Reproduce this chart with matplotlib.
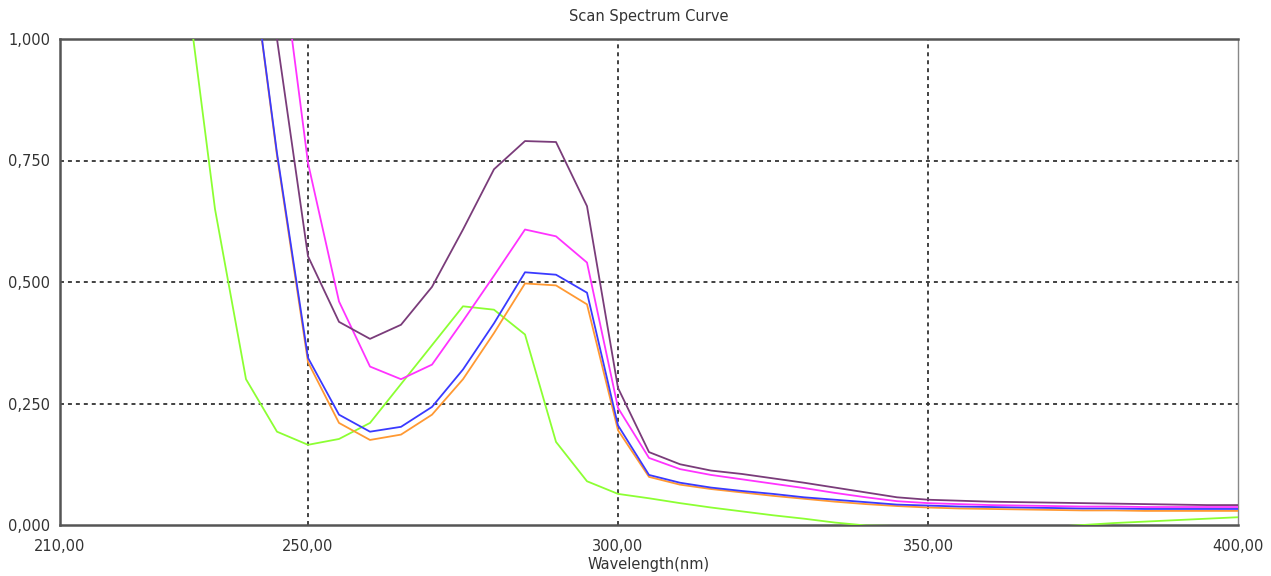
import numpy as np
import matplotlib
matplotlib.use("Agg")
import matplotlib.pyplot as plt
from matplotlib.ticker import FuncFormatter

wavelengths = list(range(230, 401, 5))

green = [1.15, 0.65, 0.30, 0.192, 0.165, 0.177, 0.21, 0.29, 0.37, 0.45, 0.443, 0.392,
         0.171, 0.09, 0.064, 0.055, 0.045, 0.036, 0.028, 0.020, 0.013, 0.005, -0.001,
         -0.002, -0.010, -0.015, -0.015, -0.012, -0.004, 0.0, 0.004, 0.007, 0.010, 0.013, 0.016]

orange = [2.2, 1.75, 1.25, 0.76, 0.335, 0.21, 0.175, 0.186, 0.227, 0.30, 0.395, 0.497,
          0.493, 0.454, 0.195, 0.099, 0.083, 0.074, 0.067, 0.060, 0.054, 0.048, 0.043,
          0.039, 0.036, 0.034, 0.033, 0.032, 0.031, 0.030, 0.030, 0.029, 0.029, 0.029, 0.029]

blue = [2.2, 1.75, 1.25, 0.765, 0.344, 0.227, 0.192, 0.202, 0.243, 0.32, 0.415, 0.52,
        0.515, 0.478, 0.205, 0.103, 0.087, 0.077, 0.070, 0.064, 0.057, 0.052, 0.047,
        0.042, 0.040, 0.038, 0.037, 0.036, 0.035, 0.034, 0.034, 0.033, 0.033, 0.033, 0.033]

magenta = [2.6, 2.2, 1.75, 1.24, 0.745, 0.46, 0.326, 0.30, 0.33, 0.42, 0.513, 0.608,
           0.594, 0.54, 0.241, 0.138, 0.115, 0.103, 0.094, 0.085, 0.076, 0.066, 0.057,
           0.049, 0.045, 0.043, 0.041, 0.040, 0.039, 0.038, 0.038, 0.037, 0.037, 0.037, 0.037]

purple = [2.5, 2.0, 1.5, 1.0, 0.553, 0.418, 0.383, 0.412, 0.49, 0.608, 0.732, 0.79,
          0.788, 0.656, 0.282, 0.15, 0.125, 0.112, 0.105, 0.096, 0.087, 0.077, 0.067,
          0.057, 0.052, 0.050, 0.048, 0.047, 0.046, 0.045, 0.044, 0.043, 0.042, 0.041, 0.041]

series = [
    (green, "#8cff33"),
    (orange, "#ff9933"),
    (blue, "#3a3aff"),
    (magenta, "#ff33ff"),
    (purple, "#7a3c7a"),
]

x_ticks = [210, 250, 300, 350, 400]
y_ticks = [0.0, 0.25, 0.5, 0.75, 1.0]

plt.rcParams['font.family'] = ['DejaVu Sans']
fig = plt.figure(figsize=(12.71, 5.76), dpi=100)
ax = fig.add_axes([60/1271, 51/576, (1238-60)/1271, (525-39)/576])

for vals, col in series:
    ax.plot(wavelengths, vals, color=col, lw=1.3, zorder=3)

ax.set_xlim(210, 400)
ax.set_ylim(0, 1)
ax.set_xticks(x_ticks)
ax.set_yticks(y_ticks)
ax.xaxis.set_major_formatter(FuncFormatter(lambda v, p: f"{v:.2f}".replace(".", ",")))
ax.yaxis.set_major_formatter(FuncFormatter(lambda v, p: f"{v:.3f}".replace(".", ",")))
ax.tick_params(length=0, labelsize=10.5, labelcolor="#333333")
ax.tick_params(axis="x", pad=10)
ax.tick_params(axis="y", pad=7)

for xv in [250, 300, 350]:
    ax.axvline(xv, color="#333333", lw=1.3, ls=(0, (2.2, 2.2)), zorder=2)
for yv in [0.25, 0.5, 0.75]:
    ax.axhline(yv, color="#333333", lw=1.3, ls=(0, (2.2, 2.2)), zorder=2)

for side in ["left", "bottom", "top"]:
    ax.spines[side].set_color("#555555")
    ax.spines[side].set_linewidth(1.8)
ax.spines["right"].set_color("#888888")
ax.spines["right"].set_linewidth(1.0)

ax.set_title("Scan Spectrum Curve", fontsize=10.5, color="#333333", pad=13)
ax.set_xlabel("Wavelength(nm)", fontsize=10.5, color="#333333", labelpad=2)

fig.savefig("out.png", dpi=100)
